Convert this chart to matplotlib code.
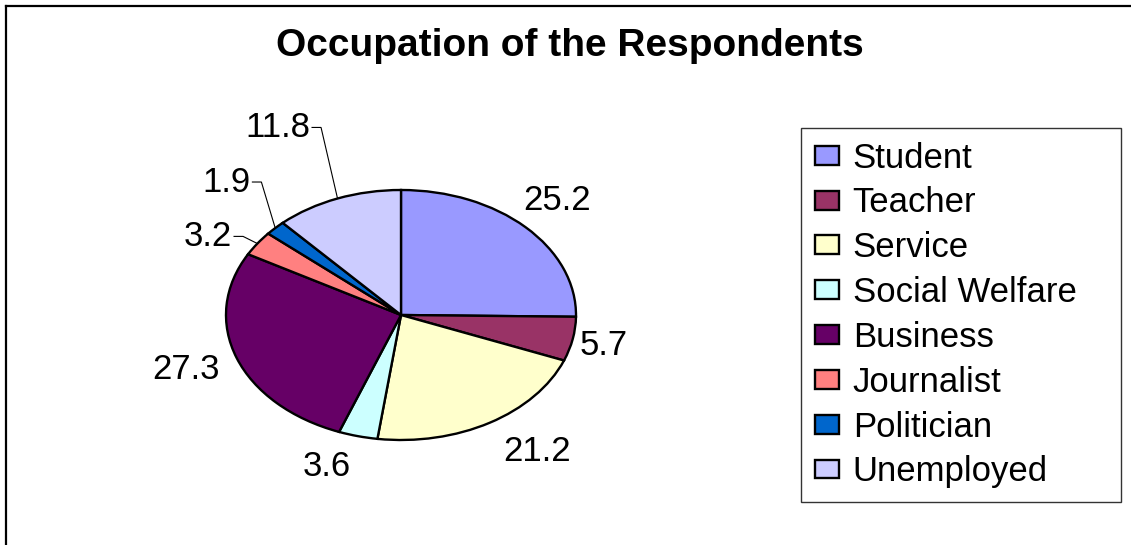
import math
import numpy as np
import matplotlib
matplotlib.use('Agg')
import matplotlib.pyplot as plt
from matplotlib.lines import Line2D

# data
categories = ['Student', 'Teacher', 'Service', 'Social Welfare',
              'Business', 'Journalist', 'Politician', 'Unemployed']
values = [25.2, 5.7, 21.2, 3.6, 27.3, 3.2, 1.9, 11.8]
colors = ['#9999FF', '#993366', '#FFFFCC', '#CCFFFF',
          '#660066', '#FF8080', '#0066CC', '#CCCCFF']
title = 'Occupation of the Respondents'

# label placement (x / y stretch of the mid direction), leader flag
label_rx = [1.25, 1.18, 1.53, 1.72, 1.31, 1.10, 1.11, 1.26]
label_ry = [1.31, 1.26, 1.27, 1.25, 1.26, 1.10, 1.53, 1.61]
leader = [False, False, False, False, False, True, True, True]

plt.rcParams['font.family'] = ['Liberation Sans', 'DejaVu Sans']

W, H = 1131, 545
fig = plt.figure(figsize=(W / 100, H / 100), dpi=100)

# pie box in pixels (left, top, right, bottom)
px_l, px_t, px_r, px_b = 226, 190, 576, 440
ax = fig.add_axes([px_l / W, 1 - px_b / H, (px_r - px_l) / W, (px_b - px_t) / H])

wedges, _ = ax.pie(values, colors=colors, startangle=90, counterclock=False,
                   radius=1.0, wedgeprops=dict(edgecolor='black', linewidth=1.7))
ax.set_aspect('auto')
ax.set_xlim(-1, 1)
ax.set_ylim(-1, 1)
ax.axis('off')

# data labels
px_per_x = (px_r - px_l) / 2.0
for i, w in enumerate(wedges):
    mid = math.radians((w.theta1 + w.theta2) / 2.0)
    cx, cy = math.cos(mid), math.sin(mid)
    lx, ly = label_rx[i] * cx, label_ry[i] * cy
    txt = '%.1f' % values[i]
    if leader[i]:
        seg = 9 / px_per_x
        ax.plot([lx - seg, lx, cx], [ly, ly, cy], color='black', lw=0.8,
                clip_on=False, solid_joinstyle='miter')
        ax.text(lx - seg - 2 / px_per_x, ly, txt, ha='right', va='center',
                fontsize=25, clip_on=False)
    else:
        ax.text(lx, ly, txt, ha='center', va='center', fontsize=25, clip_on=False)

# title
fig.text(570 / W, 1 - 46 / H, title, ha='center', va='center',
         fontsize=28, fontweight='bold')

# legend
leg = fig.legend(wedges, categories, loc='center', mode='expand',
                 bbox_to_anchor=(801 / W, 1 - 497 / H, 320 / W, 364 / H),
                 fontsize=25, frameon=True, fancybox=False, borderaxespad=0,
                 handlelength=0.69, handleheight=0.46, handletextpad=0.4,
                 labelspacing=0.34, borderpad=0.4)
leg.get_frame().set_edgecolor('black')
leg.get_frame().set_linewidth(1.0)

# outer chart border (left and top visible)
fig.add_artist(Line2D([6 / W, 6 / W], [0, 1 - 6 / H], transform=fig.transFigure,
                      color='black', lw=1.6))
fig.add_artist(Line2D([6 / W, 1], [1 - 6 / H, 1 - 6 / H], transform=fig.transFigure,
                      color='black', lw=1.6))

fig.savefig('out.png', dpi=100)
